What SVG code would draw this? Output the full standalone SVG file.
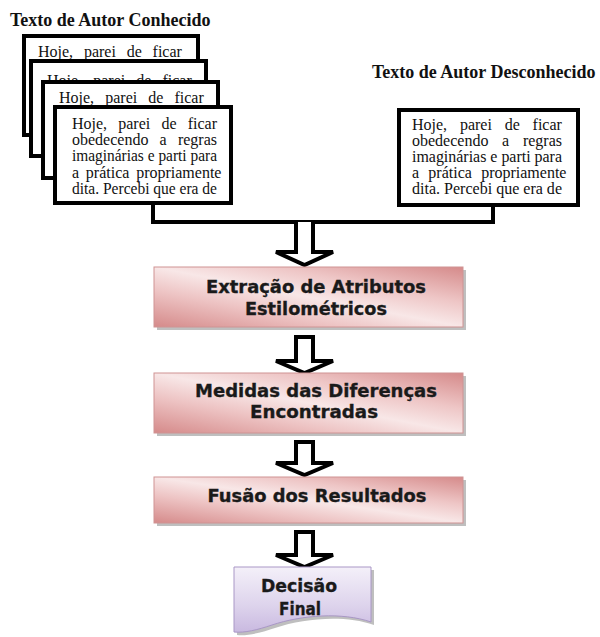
<svg xmlns="http://www.w3.org/2000/svg" width="600" height="637" viewBox="0 0 600 637">
<style>
.title{font-family:"Liberation Serif","Times New Roman",serif;font-size:18px;font-weight:bold;fill:#111}
.doc{fill:#fff;stroke:#000;stroke-width:4}
.t{font-family:"Liberation Serif","Times New Roman",serif;font-size:16px;fill:#111}
.proc{fill:url(#pink);stroke:#cf9494;stroke-width:1}
.shadow{fill:#8a8a8a;opacity:0.55}
.lbl{font-family:"DejaVu Sans","Verdana",sans-serif;font-size:18px;font-weight:bold;fill:#1a1a1a;stroke:#1a1a1a;stroke-width:0.35;text-anchor:middle}
.conn{fill:none;stroke:#000;stroke-width:4}
.barrow{fill:#fff;stroke:#000;stroke-width:4;stroke-linejoin:miter}
</style>
<defs>
<linearGradient id="pink" x1="0" y1="1" x2="1" y2="0">
<stop offset="0" stop-color="#d58a8a"/>
<stop offset="0.3" stop-color="#edc3c3"/>
<stop offset="0.5" stop-color="#f8e7e7"/>
<stop offset="0.7" stop-color="#eec6c6"/>
<stop offset="1" stop-color="#d58a8a"/>
</linearGradient>
<linearGradient id="lav" x1="0" y1="0" x2="0" y2="1">
<stop offset="0" stop-color="#f4f0f9"/>
<stop offset="0.6" stop-color="#ddd3ec"/>
<stop offset="1" stop-color="#c9b9e0"/>
</linearGradient>
</defs>

<g id="connectors">
<path class="conn" d="M153,203 V222 H493 V205"/>
<path class="barrow" d="M296,222 V252 H276 L304.5,265 L333,252 H313 V222"/>
<path class="barrow" d="M296,337 H313 V361 H333 L304.5,373 L276,361 H296 Z"/>
<path class="barrow" d="M296,442 H313 V463 H333 L304.5,475 L276,463 H296 Z"/>
<path class="barrow" d="M296,532 H313 V555 H333 L304.5,567 L276,555 H296 Z"/>
</g>

<g id="node-autor-conhecido">
<text class="title" x="10" y="26">Texto de Autor Conhecido</text>
<rect class="doc" x="24" y="36" width="174" height="99"/>
<text class="t" x="38" y="57" word-spacing="6.8">Hoje, parei de ficar</text>
<rect class="doc" x="31" y="61" width="175" height="95"/>
<text class="t" x="47" y="86" word-spacing="7.1">Hoje, parei de ficar</text>
<rect class="doc" x="43" y="82" width="175" height="96"/>
<text class="t" x="59" y="103" word-spacing="7.1">Hoje, parei de ficar</text>
<rect class="doc" x="55" y="107" width="176" height="96"/>
<text class="t" x="72" y="129" word-spacing="7.17">Hoje, parei de ficar</text>
<text class="t" x="72" y="145" word-spacing="7.2">obedecendo a regras</text>
<text class="t" x="72" y="161" textLength="145" lengthAdjust="spacingAndGlyphs">imaginárias e parti para</text>
<text class="t" x="72" y="177.5" word-spacing="2.75">a prática propriamente</text>
<text class="t" x="72" y="193.5" textLength="145" lengthAdjust="spacingAndGlyphs">dita. Percebi que era de</text>
</g>

<g id="node-autor-desconhecido">
<text class="title" x="372" y="78">Texto de Autor Desconhecido</text>
<rect class="doc" x="399" y="110" width="179" height="95"/>
<text class="t" x="412" y="130" word-spacing="8.8">Hoje, parei de ficar</text>
<text class="t" x="412" y="145.5" word-spacing="9.7">obedecendo a regras</text>
<text class="t" x="412" y="161.5" textLength="150" lengthAdjust="spacingAndGlyphs">imaginárias e parti para</text>
<text class="t" x="412" y="178" word-spacing="5.25">a prática propriamente</text>
<text class="t" x="412" y="193.5" textLength="150" lengthAdjust="spacingAndGlyphs">dita. Percebi que era de</text>
</g>

<g id="node-extracao">
<rect class="shadow" x="157" y="270" width="309" height="60"/>
<rect class="proc" x="154" y="267" width="309" height="60"/>
<text class="lbl" x="316" y="293" textLength="220" lengthAdjust="spacingAndGlyphs">Extração de Atributos</text>
<text class="lbl" x="316" y="315" textLength="142" lengthAdjust="spacingAndGlyphs">Estilométricos</text>
</g>

<g id="node-medidas">
<rect class="shadow" x="157" y="376" width="309" height="60"/>
<rect class="proc" x="154" y="373" width="309" height="60"/>
<text class="lbl" x="316" y="397" textLength="242" lengthAdjust="spacingAndGlyphs">Medidas das Diferenças</text>
<text class="lbl" x="314" y="418" textLength="128" lengthAdjust="spacingAndGlyphs">Encontradas</text>
</g>

<g id="node-fusao">
<rect class="shadow" x="157" y="480" width="309" height="46"/>
<rect class="proc" x="154" y="477" width="309" height="46"/>
<text class="lbl" x="317" y="502" textLength="219" lengthAdjust="spacingAndGlyphs">Fusão dos Resultados</text>
</g>

<g id="node-decisao">
<path class="shadow" d="M237,570 H374 V625 C345,615 305,618 275,628 C260,633 248,636 237,635 Z"/>
<path d="M234,567 H371 V622 C342,612 302,615 272,625 C257,630 245,633 234,632 Z" fill="url(#lav)" stroke="#a997c6" stroke-width="1"/>
<text class="lbl" x="299" y="592" textLength="76" lengthAdjust="spacingAndGlyphs">Decisão</text>
<text class="lbl" x="300" y="615" textLength="42" lengthAdjust="spacingAndGlyphs">Final</text>
</g>
</svg>
